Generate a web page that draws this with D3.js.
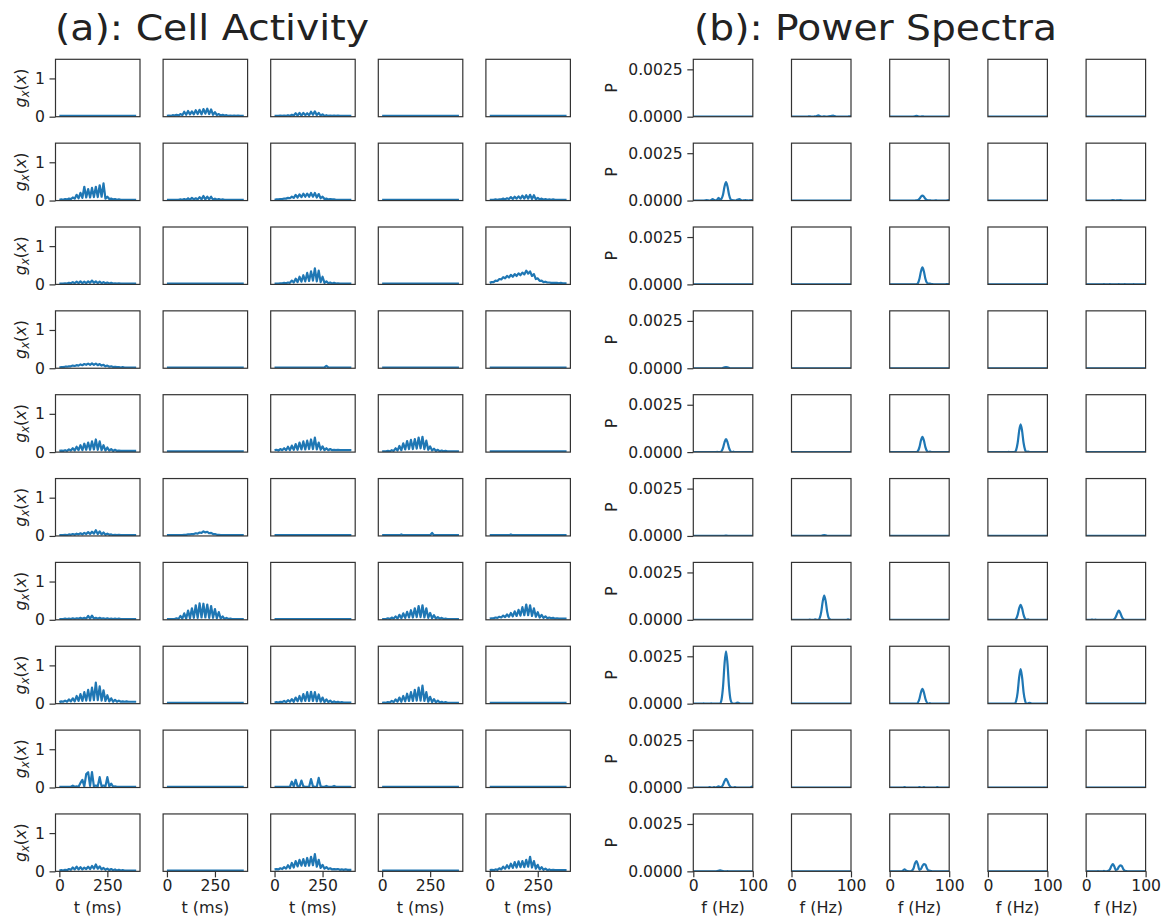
<!DOCTYPE html>
<html><head><meta charset="utf-8">
<script src="https://cdn.jsdelivr.net/npm/d3@7"></script>
<style>body{margin:0;background:#fff} svg text{font-family:"DejaVu Sans",sans-serif;fill:#222}</style>
</head><body><svg id="c" width="1170" height="921"></svg>
<script>
// time grid (ms) and frequency grid (Hz)
const times = [0,10,20,30,40,50,60,70,80,90,100,110,120,130,140,150,160,170,180,190,200,210,220,230,240,250,260,270,280,290,300,310,320,330,340,350,360,370,380,390,400];
const freqs = [0,2.5,5,7.5,10,12.5,15,17.5,20,22.5,25,27.5,30,32.5,35,37.5,40,42.5,45,47.5,50,52.5,55,57.5,60,62.5,65,67.5,70,72.5,75,77.5,80,82.5,85,87.5,90,92.5,95,97.5,100];
const gTicksX = [0,250], gTicksY = [0,1];
const pTicksX = [0,100], pTicksY = [0,0.0025];

// quiet cell (flat activity) and empty spectrum
const G0 = [.02,.02,.02,.02,.02,.02,.02,.02,.02,.02, .02,.02,.02,.02,.02,.02,.02,.02,.02,.02, .02,.02,.02,.02,.02,.02,.02,.02,.02,.02, .02,.02,.02,.02,.02,.02,.02,.02,.02,.02, .02];
const P0 = [0,0,0,0,0,0,0,0,0,0, 0,0,0,0,0,0,0,0,0,0, 0,0,0,0,0,0,0,0,0,0, 0,0,0,0,0,0,0,0,0,0, 0];

// (a) cell activity g_x(x), rows of 5 cells
const gRow1 = [G0,
 [.02,.03,.02,.04,.03,.05,.03,.07,.04,.13, .05,.15,.06,.14,.06,.17,.07,.18,.06,.2, .08,.21,.07,.19,.05,.12,.04,.07,.03,.05, .03,.04,.02,.03,.02,.03,.02,.03,.02,.02, .02],
 [.02,.02,.02,.03,.02,.03,.02,.04,.02,.05, .03,.09,.03,.1,.03,.1,.04,.09,.04,.13, .05,.14,.04,.1,.03,.06,.02,.04,.02,.03, .02,.03,.02,.03,.02,.02,.02,.02,.02,.02, .02],
 G0, G0];
const gRow2 = [
 [.02,.03,.02,.04,.03,.05,.04,.08,.05,.15, .06,.2,.07,.36,.08,.3,.08,.33,.09,.36, .09,.4,.1,.45,.05,.1,.04,.05,.03,.04, .02,.03,.02,.02,.02,.02,.02,.02,.02,.02, .02],
 [.02,.02,.02,.02,.02,.02,.02,.03,.02,.04, .02,.06,.02,.07,.03,.06,.03,.09,.03,.12, .03,.1,.03,.1,.02,.05,.02,.04,.02,.03, .02,.02,.02,.02,.02,.02,.02,.02,.02,.02, .02],
 [.02,.03,.03,.04,.04,.05,.05,.07,.06,.1, .07,.15,.08,.16,.09,.18,.1,.18,.1,.2, .1,.2,.08,.17,.06,.1,.04,.05,.03,.04, .03,.03,.02,.02,.02,.02,.02,.02,.02,.02, .02],
 G0,
 [.02,.02,.02,.03,.02,.03,.03,.05,.03,.06, .04,.09,.04,.1,.05,.11,.05,.13,.05,.14, .05,.15,.04,.14,.03,.07,.03,.05,.02,.04, .02,.03,.02,.03,.02,.02,.02,.02,.02,.02, .02]];
const gRow3 = [
 [.02,.02,.02,.03,.02,.04,.03,.06,.03,.07, .03,.08,.03,.07,.03,.08,.04,.1,.04,.08, .03,.07,.03,.06,.03,.05,.02,.04,.02,.03, .02,.03,.02,.02,.02,.02,.02,.02,.02,.02, .02],
 G0,
 [.02,.02,.02,.03,.03,.04,.03,.05,.04,.1, .05,.15,.06,.2,.07,.24,.08,.3,.09,.34, .1,.42,.08,.36,.06,.2,.04,.08,.03,.05, .02,.04,.02,.03,.02,.02,.02,.02,.02,.02, .02],
 G0,
 [.04,.06,.06,.1,.09,.14,.13,.19,.16,.22, .18,.25,.2,.27,.22,.29,.24,.31,.26,.36, .28,.34,.22,.27,.14,.16,.09,.1,.06,.07, .05,.05,.04,.04,.04,.04,.03,.04,.03,.03, .03]];
const gRow4 = [
 [.02,.03,.03,.04,.04,.05,.05,.07,.06,.08, .07,.1,.08,.11,.09,.12,.09,.13,.09,.12, .08,.11,.07,.09,.05,.07,.04,.05,.03,.04, .03,.03,.02,.03,.02,.02,.02,.02,.02,.02, .02],
 G0,
 [.02,.02,.02,.02,.02,.02,.02,.02,.02,.02, .02,.02,.02,.02,.02,.02,.02,.02,.02,.02, .02,.02,.02,.02,.02,.02,.02,.06,.02,.02, .02,.02,.02,.02,.02,.02,.02,.02,.02,.02, .02],
 G0, G0];
const gRow5 = [
 [.03,.04,.03,.05,.03,.07,.04,.1,.04,.14, .05,.18,.05,.22,.06,.25,.06,.28,.07,.33, .06,.28,.05,.18,.04,.12,.04,.08,.03,.06, .03,.04,.03,.03,.03,.03,.03,.03,.03,.03, .03],
 G0,
 [.05,.06,.04,.08,.05,.1,.05,.14,.05,.17, .06,.21,.06,.25,.07,.28,.07,.3,.08,.33, .08,.38,.07,.25,.06,.15,.05,.1,.05,.08, .05,.06,.05,.06,.05,.05,.05,.05,.05,.05, .05],
 [.02,.02,.02,.03,.02,.05,.03,.1,.04,.16, .05,.23,.07,.29,.08,.32,.08,.34,.09,.38, .1,.4,.08,.3,.06,.15,.04,.09,.03,.06, .02,.04,.02,.03,.02,.02,.02,.02,.02,.02, .02],
 G0];
const gRow6 = [
 [.02,.02,.02,.03,.02,.04,.03,.05,.03,.06, .04,.07,.04,.08,.05,.1,.05,.11,.06,.15, .05,.12,.04,.09,.03,.06,.03,.04,.02,.03, .02,.03,.02,.02,.02,.02,.02,.02,.02,.02, .02],
 [.02,.02,.02,.02,.02,.02,.02,.02,.02,.03, .03,.04,.04,.05,.05,.07,.06,.09,.08,.12, .09,.11,.07,.08,.05,.05,.03,.03,.02,.02, .02,.02,.02,.02,.02,.02,.02,.02,.02,.02, .02],
 G0,
 [.02,.02,.02,.02,.02,.02,.02,.02,.02,.02, .04,.02,.02,.02,.02,.02,.02,.02,.02,.02, .02,.02,.02,.02,.02,.02,.08,.02,.02,.02, .02,.02,.02,.02,.02,.02,.02,.02,.02,.02, .02],
 [.02,.02,.02,.02,.02,.02,.02,.02,.02,.02, .02,.04,.02,.02,.02,.02,.02,.02,.02,.02, .02,.02,.02,.02,.02,.02,.02,.02,.02,.02, .02,.02,.02,.02,.02,.02,.02,.02,.02,.02, .02]];
const gRow7 = [
 [.02,.02,.02,.03,.02,.03,.02,.04,.02,.04, .03,.05,.03,.05,.03,.1,.03,.11,.03,.05, .03,.05,.03,.04,.02,.04,.02,.03,.02,.03, .02,.03,.02,.02,.02,.02,.02,.02,.02,.02, .02],
 [.02,.02,.02,.02,.02,.04,.02,.1,.03,.17, .03,.24,.04,.3,.05,.38,.05,.43,.06,.42, .06,.4,.05,.36,.05,.28,.04,.2,.03,.09, .02,.05,.02,.03,.02,.02,.02,.02,.02,.02, .02],
 G0,
 [.02,.02,.02,.04,.02,.06,.03,.09,.03,.13, .04,.17,.05,.21,.06,.25,.06,.3,.07,.36, .07,.38,.06,.3,.05,.18,.04,.12,.03,.07, .03,.05,.02,.03,.02,.02,.02,.02,.02,.02, .02],
 [.03,.04,.04,.06,.05,.08,.06,.11,.07,.14, .08,.18,.09,.22,.1,.26,.11,.33,.12,.4, .12,.38,.1,.3,.08,.2,.06,.13,.05,.09, .04,.06,.04,.05,.03,.04,.03,.03,.03,.03, .03]];
const gRow8 = [
 [.04,.06,.05,.08,.05,.11,.06,.14,.06,.2, .07,.25,.07,.3,.08,.36,.08,.42,.09,.55, .09,.45,.08,.35,.07,.22,.06,.14,.05,.1, .05,.08,.05,.06,.05,.06,.05,.05,.05,.05, .05],
 G0,
 [.03,.04,.03,.05,.04,.07,.04,.09,.05,.12, .05,.16,.06,.2,.06,.25,.07,.3,.07,.31, .07,.3,.06,.24,.05,.16,.04,.11,.04,.08, .03,.06,.03,.05,.03,.04,.03,.03,.03,.03, .03],
 [.02,.03,.02,.04,.03,.07,.04,.11,.05,.16, .05,.2,.06,.26,.07,.3,.07,.36,.08,.42, .08,.47,.07,.3,.05,.18,.04,.12,.03,.08, .03,.05,.02,.04,.02,.02,.02,.02,.02,.02, .02],
 G0];
const gRow9 = [
 [.02,.02,.02,.02,.02,.02,.02,.05,.02,.03, .02,.12,.2,.03,.35,.4,.04,.4,.03,.05, .03,.27,.03,.05,.03,.27,.03,.1,.02,.03, .02,.02,.02,.02,.02,.02,.02,.02,.02,.02, .02],
 G0,
 [.02,.02,.02,.02,.02,.02,.02,.02,.02,.15, .03,.2,.03,.02,.18,.03,.02,.02,.02,.22, .03,.02,.02,.25,.03,.02,.02,.04,.02,.02, .02,.04,.02,.02,.02,.02,.02,.02,.02,.02, .02],
 G0, G0];
const gRow10 = [
 [.02,.03,.02,.04,.03,.06,.04,.1,.05,.12, .05,.11,.05,.1,.06,.12,.06,.14,.07,.18, .07,.13,.05,.09,.04,.07,.03,.06,.03,.05, .02,.04,.02,.03,.02,.02,.02,.02,.02,.02, .02],
 G0,
 [.05,.06,.05,.08,.06,.11,.07,.16,.08,.22, .1,.27,.13,.3,.15,.32,.14,.35,.15,.38, .16,.45,.12,.3,.09,.17,.07,.11,.06,.08, .05,.06,.05,.06,.04,.05,.04,.05,.04,.04, .04],
 G0,
 [.03,.04,.03,.05,.04,.08,.05,.12,.07,.16, .08,.2,.09,.24,.1,.26,.11,.27,.11,.3, .12,.38,.1,.27,.07,.17,.05,.11,.04,.07, .03,.05,.03,.04,.03,.03,.03,.03,.03,.03, .03]];

// (b) power spectra P(f), rows of 5 cells
const pRow1 = [P0,
 [0,0,0,0,0,0,0,0,.00001,.00001, 0,.00001,.00002,.00001,0,.00001,.00002,.00004,.00007,.00004, .00001,.00001,.00002,.00001,.00001,.00002,.00003,.00004,.00006,.00003, .00001,0,.00001,.00001,0,.00001,.00001,0,.00001,.00002, .00004],
 [0,0,0,0,0,0,0,0,0,0, 0,0,0,0,0,0,.00001,.00002,.00005,.00002, .00001,.00001,.00002,.00001,0,0,.00001,0,0,0, 0,0,0,0,0,0,0,0,0,0, 0],
 P0, P0];
const pRow2 = [
 [0,0,0,0,0,0,0,0,.00001,.00003, .00001,0,.00003,.00008,.00003,.00001,.00004,.00014,.00004,.0001, .00032,.00074,.00097,.00074,.00032,.00008,.00002,.00001,0,.00002, .00006,.00008,.00003,0,.00001,.00002,.00001,0,.00001,.00002, .00004],
 P0,
 [0,0,0,0,0,0,0,0,0,0, 0,0,0,0,0,0,0,0,.00001,.00002, .00009,.0002,.00026,.0002,.00009,.00002,.00001,.00001,0,0, 0,.00001,0,0,0,0,0,0,0,.00001, .00002],
 P0,
 [0,0,0,0,0,0,0,0,0,0, 0,0,0,0,0,0,0,.00001,.00003,.00001, 0,.00001,.00001,.00003,.00001,0,0,0,0,0, 0,0,0,0,0,0,0,0,0,0, 0]];
const pRow3 = [P0, P0,
 [0,0,0,0,0,0,0,0,0,0, 0,0,0,0,0,0,0,0,.00001,.00007, .0003,.00068,.0009,.00068,.0003,.00009,.00004,.00004,.00002,.00001, 0,0,0,0,0,0,0,0,.00001,.00001, .00002],
 P0,
 [0,0,0,0,0,0,0,0,0,0, 0,0,.00002,0,0,0,.00002,0,0,0, 0,0,.00002,0,0,0,.00002,0,0,0, 0,0,.00001,0,0,0,0,0,0,0, 0]];
const pRow4 = [
 [0,0,0,0,0,0,0,0,0,0, 0,0,0,0,0,0,0,0,0,0, .00002,.00005,.00006,.00005,.00002,0,0,0,0,0, 0,0,0,0,0,0,0,0,0,0, 0],
 P0, P0, P0, P0];
const pRow5 = [
 [0,0,0,0,0,0,0,0,0,0, 0,0,0,0,0,0,.00001,0,0,.00005, .00022,.00052,.00068,.00052,.00022,.00005,0,.00002,0,0, 0,0,0,0,0,0,0,0,0,0, 0],
 P0,
 [0,0,0,0,0,0,0,0,0,0, 0,0,0,0,0,0,0,0,0,.00006, .00026,.00061,.0008,.00061,.00026,.00006,0,.00003,0,0, 0,0,0,0,0,0,0,0,0,0, 0],
 [0,0,0,0,0,0,0,0,0,0, 0,0,0,0,.00001,0,0,0,0,.00012, .00048,.00111,.00146,.00111,.00048,.00012,0,.00003,0,0, 0,0,0,0,0,0,0,0,0,0, 0],
 P0];
const pRow6 = [
 [0,0,0,0,0,0,0,0,0,0, 0,0,0,0,0,0,0,0,0,0, 0,.00001,.00002,.00001,0,0,0,0,0,0, 0,0,0,0,0,0,0,0,0,0, 0],
 [0,0,0,0,0,0,0,0,0,0, 0,0,0,0,0,0,0,0,0,0, .00001,.00003,.00004,.00003,.00001,0,0,0,0,0, 0,0,0,0,0,0,0,0,0,0, 0],
 P0, P0, P0];
const pRow7 = [P0,
 [0,0,0,0,0,0,0,0,0,0, 0,0,.00001,0,0,0,.00002,0,0,.0001, .00042,.00097,.00128,.00097,.00042,.0001,.00002,0,0,0, 0,0,0,0,0,0,0,0,.00002,0, 0],
 P0,
 [0,0,0,0,0,0,0,0,0,0, 0,0,0,0,0,0,0,0,0,.00006, .00026,.0006,.00079,.0006,.00026,.00006,0,.00002,0,0, 0,0,0,0,0,0,0,0,0,0, 0],
 [0,0,0,0,.00001,0,.00001,0,0,0, 0,0,0,0,0,0,0,0,0,.00004, .00016,.00036,.00048,.00036,.00016,.00004,0,0,0,0, 0,0,0,0,0,0,0,0,0,0, 0]];
const pRow8 = [
 [0,0,0,0,0,0,0,.00001,0,0, 0,0,.00002,0,0,0,0,0,0,.00022, .00091,.0021,.00276,.0021,.00091,.00022,.00003,0,0,.00003, .00006,.00002,0,0,0,0,0,0,0,0, 0],
 P0,
 [0,0,0,0,0,0,0,0,0,0, 0,0,0,0,0,0,0,0,0,.00006, .00026,.00059,.00078,.00059,.00026,.00006,0,.00003,0,0, 0,0,0,0,0,0,0,0,0,0, 0],
 [0,0,0,0,0,0,0,0,0,0, 0,0,0,0,0,0,0,0,0,.00015, .0006,.00138,.00182,.00138,.0006,.00015,0,.00002,.00004,.00002, 0,0,0,0,0,0,0,0,0,0, 0],
 P0];
const pRow9 = [
 [0,0,0,0,0,0,0,0,0,0, 0,.00002,0,0,.00002,0,.00002,.00006,.00002,.00004, .00015,.00034,.00045,.00034,.00015,.00004,0,0,.00002,0, 0,0,0,0,0,0,0,0,0,.00003, .00007],
 P0,
 [0,0,0,0,0,0,0,0,0,0, .00002,0,0,0,0,0,0,0,0,0, .00002,0,0,.00002,0,0,0,0,0,0, 0,0,.00002,0,0,0,0,0,0,0, 0],
 P0, P0];
const pRow10 = [
 [0,0,0,0,0,0,0,0,0,0, 0,0,0,0,0,0,.00001,.00003,.00005,.00003, .00001,0,0,.00001,0,0,0,0,0,0, 0,0,0,0,0,0,0,0,0,0, 0],
 P0,
 [0,0,0,0,0,0,0,0,0,.00005, .0001,.00005,.00001,0,0,.00004,.00015,.00042,.00054,.00035, .00008,.00012,.00028,.00038,.00035,.00016,.00005,.00003,.00001,0, 0,0,0,0,0,0,0,0,0,0, 0],
 P0,
 [0,0,0,0,0,0,0,0,.00001,0, 0,0,.00002,0,0,.00003,.0001,.00028,.00038,.00025, .00007,.0001,.00024,.00032,.00028,.00012,.00004,.00001,0,0, 0,0,0,0,0,0,0,0,0,0, 0]];

const gRows = [gRow1,gRow2,gRow3,gRow4,gRow5,gRow6,gRow7,gRow8,gRow9,gRow10];
const pRows = [pRow1,pRow2,pRow3,pRow4,pRow5,pRow6,pRow7,pRow8,pRow9,pRow10];

const svg = d3.select('#c');
const rowTop0 = 59.3, rowPitch = 83.85, boxH = 57.4;
const BLUE = '#1f77b4', INK = '#222', SPINE = '#333';

const panels = [
 {key:'a', rows:gRows, xs:times, xDomain:[-20,420], yDomain:[0,1.5], left0:55.5, pitch:107.6, w:84.5,
  xTicks:gTicksX, yTicks:gTicksY, yFmt:d3.format('d'), xLabel:'t (ms)', curve:d3.curveLinear, lw:2.2,
  title:'(a): Cell Activity', titleX:55, titleLen:314, ylabX:25.5},
 {key:'b', rows:pRows, xs:freqs, xDomain:[0,100], yDomain:[0,0.00303], left0:693.3, pitch:98.2, w:59.5,
  xTicks:pTicksX, yTicks:pTicksY, yFmt:d3.format('.4f'), xLabel:'f (Hz)', curve:d3.curveMonotoneX, lw:2.2,
  title:'(b): Power Spectra', titleX:694, titleLen:363, ylabX:617}
];

function styleAxis(sel){
  sel.attr('font-family',null).attr('font-size',null);
  sel.select('.domain').remove();
  sel.selectAll('.tick line').attr('stroke',SPINE).attr('stroke-width',1.2);
  sel.selectAll('.tick text').attr('font-size',15.6).attr('fill',INK);
}

panels.forEach(p=>{
  svg.append('text').attr('x',p.titleX).attr('y',39.5).attr('font-size',35)
     .attr('textLength',p.titleLen).attr('lengthAdjust','spacingAndGlyphs').text(p.title);
  const nR = p.rows.length;
  p.rows.forEach((row,r)=>{
    row.forEach((vals,c)=>{
      const x0 = p.left0 + c*p.pitch, y0 = rowTop0 + r*rowPitch;
      const x = d3.scaleLinear().domain(p.xDomain).range([0,p.w]);
      const y = d3.scaleLinear().domain(p.yDomain).range([boxH,0]);
      const g = svg.append('g').attr('transform',`translate(${x0},${y0})`);
      const id = `clip-${p.key}-${r}-${c}`;
      g.append('clipPath').attr('id',id).append('rect').attr('width',p.w).attr('height',boxH);
      g.append('path').datum(vals).attr('clip-path',`url(#${id})`)
        .attr('fill','none').attr('stroke',BLUE).attr('stroke-width',p.lw)
        .attr('stroke-linejoin','round')
        .attr('d', d3.line().x((d,i)=>x(p.xs[i])).y(d=>y(d)).curve(p.curve));
      g.append('rect').attr('width',p.w).attr('height',boxH)
        .attr('fill','none').attr('stroke',SPINE).attr('stroke-width',1.2);
      if(c===0){
        g.append('g').call(d3.axisLeft(y).tickValues(p.yTicks).tickFormat(p.yFmt).tickSize(6).tickPadding(4.5)).call(styleAxis);
        const lab = svg.append('text').attr('font-size',16).attr('text-anchor','middle')
          .attr('transform',`translate(${p.ylabX},${y0+boxH/2}) rotate(-90)`);
        if(p.key==='a'){
          lab.append('tspan').attr('font-style','italic').text('g');
          lab.append('tspan').attr('font-style','italic').attr('font-size',11.5).attr('dy',3).text('x');
          lab.append('tspan').attr('dy',-3).text('(');
          lab.append('tspan').attr('font-style','italic').text('x');
          lab.append('tspan').text(')');
        } else {
          lab.text('P');
        }
      }
      if(r===nR-1){
        g.append('g').attr('transform',`translate(0,${boxH})`)
          .call(d3.axisBottom(x).tickValues(p.xTicks).tickSize(6).tickPadding(2.5)).call(styleAxis);
        svg.append('text').attr('font-size',16).attr('text-anchor','middle')
          .attr('x',x0+p.w/2).attr('y',y0+boxH+41.4).text(p.xLabel);
      }
    });
  });
});
</script>
</body></html>
